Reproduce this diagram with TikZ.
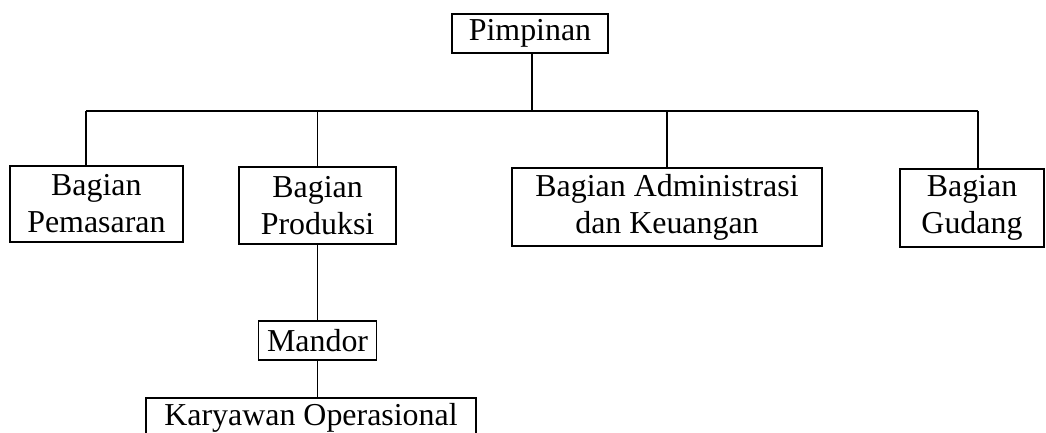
\documentclass[tikz,border=0pt]{standalone}
\usepackage{fontspec}
\setmainfont{Liberation Serif}
\begin{document}
\begin{tikzpicture}[line width=1.2pt,main node/.style={rectangle,draw,align=center,inner sep=0pt,font=\fontsize{22.7}{26.3}\selectfont}]
  \useasboundingbox (0,0) rectangle (26.15,-10.825);

  \node[main node,minimum width=3.9cm,minimum height=0.975cm] at (13.25,-0.84) (1) {Pimpinan};
  \node[main node,minimum width=4.325cm,minimum height=1.9cm] at (2.41,-5.1) (2) {Bagian\\Pemasaran};
  \node[main node,minimum width=3.925cm,minimum height=1.925cm] at (7.94,-5.14) (3) {Bagian\\Produksi};
  \node[main node,minimum width=7.75cm,minimum height=1.95cm] at (16.675,-5.175) (4) {Bagian Administrasi\\dan Keuangan};
  \node[main node,minimum width=3.6cm,minimum height=1.95cm] at (24.3,-5.2) (5) {Bagian\\Gudang};
  \node[main node,minimum width=2.95cm,minimum height=0.975cm] at (7.94,-8.51) (6) {Mandor};
  \node[main node,minimum width=8.25cm,minimum height=0.975cm] at (7.775,-10.44) (7) {Karyawan Operasional};

  % garis cabang
  \coordinate (bus) at (13.3,-2.775);
  \coordinate (a) at (2.15,-2.775);
  \coordinate (e) at (24.45,-2.775);
  \draw (bus |- 1.south) -- (bus);
  \draw (a) -- (e);
  \draw (a) -- (a |- 2.north);
  \draw (3.north |- a) -- (3.north);
  \draw (4.north |- a) -- (4.north);
  \draw (e) -- (e |- 5.north);

  \draw (3) -- (6);
  \draw (6.south) -- (6.south |- 7.north);
\end{tikzpicture}
\end{document}
